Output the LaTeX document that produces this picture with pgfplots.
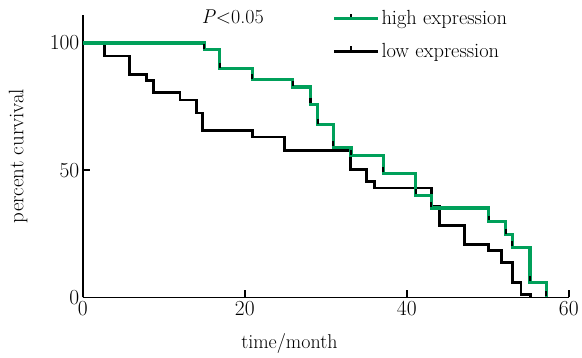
\documentclass[border=0pt]{standalone}
\usepackage{pgfplots}
\pgfplotsset{compat=1.18}
\definecolor{kmgreen}{RGB}{0,160,90}
\begin{document}
\begin{tikzpicture}[font=\fontsize{20}{24}\selectfont]
\begin{axis}[
  scale only axis, width=487pt, height=283pt,
  xmin=0, xmax=60, ymin=0, ymax=111,
  axis lines=left,
  x axis line style={-}, y axis line style={-},
  axis line style={line width=1.5pt},
  xtick={0,20,40,60}, ytick={0,50,100},
  tick align=inside, major tick length=7pt,
  tick style={black, line width=1.5pt},
  /pgf/number format/assume math mode=true,
  tick label style={font=\fontsize{21.5}{24}\selectfont},
  xlabel={time/month}, ylabel={percent curvival},
  xlabel style={at={(axis description cs:0.425,-0.162)}, anchor=center},
  ylabel style={at={(axis description cs:-0.133,0.5)}, anchor=center, font=\fontsize{21}{24}\selectfont},
  clip=false,
  legend style={draw=none, fill=none, at={(axis description cs:0.507,1.03)}, anchor=north west, row sep=13pt, font=\fontsize{20.5}{24}\selectfont},
  legend cell align=left,
  legend image code/.code={\draw[#1] (0pt,0pt) -- (35pt,0pt); \draw[black, line width=2pt] (17.5pt,0pt) -- (17.5pt,5pt); \path (0pt,0pt) -- (44pt,0pt);},
]
\addplot[const plot, black, line width=2.8pt, forget plot] coordinates {
(0,100) (2.7,94.9) (5.8,87.5) (7.9,85.1) (8.7,80.4) (12.0,77.6) (14.0,72.5) (14.8,65.5)
(20.9,63.0) (24.9,57.8) (33.0,50.2) (35.0,45.5) (36.0,43.0) (43.0,35.7) (44.0,28.2)
(47.1,20.8) (50.1,18.4) (51.7,13.7) (53.0,5.9) (54.1,1.2) (55.3,0)
};
\addplot[const plot, kmgreen, line width=3.2pt, forget plot] coordinates {
(0,100) (15,97.3) (16.9,89.9) (20.9,85.5) (25.9,82.7) (28.1,75.7) (29.0,67.8) (30.9,59.0)
(33.1,55.7) (37.1,48.8) (41.1,40.2) (43.0,35.1) (50.1,29.8) (52.2,24.7) (53.0,19.6)
(55.2,5.9) (57.2,0)
};
\addplot[only marks, mark=|, mark size=2.5pt, black, mark options={line width=2.2pt}, forget plot] coordinates {
(15,98.5) (16.9,91.2) (20.9,86.8) (25.9,84.0) (28.1,77.5) (29.0,69.3) (30.9,60.5)
(33.1,57.0) (37.1,50.3) (41.1,41.6) (43.0,36.6) (50.1,31.2) (52.2,26.0) (53.0,21.0)
(55.2,7.3) (57.2,1.4)
};
\addlegendimage{kmgreen, line width=3.2pt}
\addlegendentry{high expression}
\addlegendimage{black, line width=2.8pt}
\addlegendentry{low expression}
\node at (axis cs:18.5,110.3) {\textit{P}<0.05};
\end{axis}
\path (current axis.south west) ++(-83pt,-60pt) rectangle ++(582pt,358pt);
\end{tikzpicture}
\end{document}
